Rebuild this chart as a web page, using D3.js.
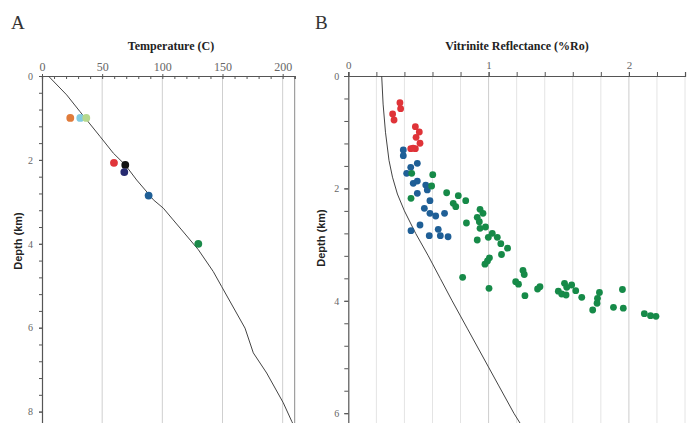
<!DOCTYPE html>
<html>
<head>
<meta charset="utf-8">
<script src="https://cdn.jsdelivr.net/npm/d3@7"></script>
<style>
  html, body { margin: 0; padding: 0; background: #fff; }
  svg { display: block; }
  text { font-family: "Liberation Serif", "DejaVu Serif", serif; }
</style>
</head>
<body>
<svg id="chart" width="688" height="423"></svg>
<script>
// ---- Panel A: temperature vs depth ----
const tempTicks = [0, 50, 100, 150, 200];
const depthTicksA = [0, 2, 4, 6, 8];
// measured well temperatures: [temperature C, depth km, colour]
const tempPoints = [
  [23.5, 1.00, "#e07b3a"],
  [31.8, 1.00, "#82cbe0"],
  [36.8, 1.00, "#b6d88e"],
  [59.8, 2.07, "#e0353a"],
  [69.2, 2.12, "#111111"],
  [68.4, 2.29, "#262a70"],
  [88.6, 2.85, "#1f5f96"],
  [129.9, 4.00, "#1b8a4a"]
];
// modelled geotherm: [temperature C, depth km]
const geotherm = [
  [5.3, 0], [20.5, 0.45], [31.6, 0.85], [48.2, 1.44], [59.3, 1.84], [69.2, 2.12],
  [78.7, 2.48], [89.7, 2.85], [92.5, 2.95], [100.8, 3.15], [109.0, 3.43],
  [116.1, 3.67], [129.9, 4.14], [142.3, 4.66], [149.3, 5.02], [168.7, 6.01],
  [175.6, 6.60], [186.7, 7.08], [200.5, 7.79], [207.5, 8.23], [210.5, 8.40]
];

// ---- Panel B: vitrinite reflectance vs depth ----
const roTicks = [0, 1, 2];
const depthTicksB = [0, 2, 4, 6];
// measured reflectance: [%Ro, depth km]
const roRed = [
  [0.368, 0.475], [0.373, 0.582], [0.316, 0.676], [0.326, 0.783], [0.478, 0.902],
  [0.506, 0.996], [0.483, 1.091], [0.511, 1.197], [0.445, 1.294], [0.478, 1.294], [0.462, 1.285]
];
const roBlue = [
  [0.392, 1.317], [0.392, 1.418], [0.492, 1.553], [0.445, 1.625], [0.416, 1.731],
  [0.463, 1.910], [0.492, 1.870], [0.552, 1.940], [0.563, 2.028], [0.492, 2.087],
  [0.582, 2.219], [0.542, 2.354], [0.582, 2.443], [0.623, 2.491], [0.686, 2.443],
  [0.511, 2.651], [0.447, 2.753], [0.641, 2.728], [0.577, 2.842], [0.656, 2.842], [0.711, 2.860]
];
const roGreen = [
  [0.452, 1.731], [0.602, 1.756], [0.594, 1.957], [0.447, 2.176], [0.701, 2.077],
  [0.784, 2.130], [0.748, 2.265], [0.766, 2.326], [0.837, 2.219], [0.842, 2.616],
  [0.939, 2.372], [0.960, 2.443], [0.919, 2.514], [0.934, 2.593], [0.939, 2.710],
  [0.978, 2.687], [0.919, 2.918], [0.998, 2.870], [1.026, 2.799], [1.062, 2.870],
  [1.087, 2.984], [1.135, 3.064], [1.092, 3.176], [1.006, 3.235], [0.992, 3.292],
  [0.974, 3.349], [0.815, 3.582], [1.003, 3.778], [1.245, 3.461], [1.254, 3.532],
  [1.193, 3.660], [1.213, 3.705], [1.259, 3.909], [1.349, 3.790], [1.366, 3.749],
  [1.497, 3.829], [1.521, 3.879], [1.552, 3.897], [1.541, 3.689], [1.557, 3.760],
  [1.592, 3.719], [1.621, 3.820], [1.664, 3.938], [1.790, 3.852], [1.776, 3.956],
  [1.773, 4.044], [1.742, 4.164], [1.890, 4.116], [1.954, 3.799], [1.960, 4.132],
  [2.110, 4.229], [2.154, 4.265], [2.193, 4.276]
];
// modelled maturity trend: [%Ro, depth km]
const roModel = [
  [0.238, 0], [0.248, 0.5], [0.265, 1.0], [0.290, 1.5], [0.315, 1.8], [0.350, 2.1],
  [0.400, 2.4], [0.480, 2.8], [0.570, 3.2], [0.655, 3.6], [0.740, 4.0], [0.850, 4.5],
  [0.960, 5.0], [1.070, 5.5], [1.180, 6.0], [1.230, 6.2], [1.250, 6.3]
];

const svg = d3.select("#chart");
const axisColor = "#555";
const labelColor = "#666";

function styleAxis(g) {
  g.select(".domain").attr("stroke", axisColor).attr("stroke-width", 1.2);
  g.selectAll(".tick line").attr("stroke", axisColor);
  g.selectAll(".tick text").attr("fill", labelColor)
    .style("font-family", "'Liberation Serif', serif");
}

// ================= Panel A =================
const xA = d3.scaleLinear().domain([0, 210]).range([42, 294.7]);
const yA = d3.scaleLinear().domain([0, 8.5]).range([76, 76 + 8.5 * 41.95]);
const gA = svg.append("g");

// vertical grid lines
gA.append("g").selectAll("line").data(tempTicks.filter(d => d > 0)).join("line")
  .attr("x1", d => xA(d)).attr("x2", d => xA(d))
  .attr("y1", yA(0)).attr("y2", 423)
  .attr("stroke", "#cfcfcf").attr("stroke-width", 1);
// right frame
gA.append("line").attr("x1", xA(210)).attr("x2", xA(210))
  .attr("y1", yA(0)).attr("y2", 423).attr("stroke", "#8a8a8a").attr("stroke-width", 1);

// minor ticks
gA.append("g").attr("transform", `translate(0,${yA(0)})`)
  .call(d3.axisTop(xA).tickValues(d3.range(0, 211, 10)).tickSize(-3).tickFormat(""))
  .call(styleAxis);
gA.append("g").attr("transform", `translate(${xA(0)},0)`)
  .call(d3.axisLeft(yA).tickValues(d3.range(0, 8.45, 0.4)).tickSize(3).tickFormat(""))
  .call(styleAxis);
// labelled ticks
gA.append("g").attr("transform", `translate(0,${yA(0)})`)
  .call(d3.axisTop(xA).tickValues(tempTicks).tickSize(2).tickPadding(3).tickFormat(d3.format("d")))
  .call(styleAxis)
  .call(g => g.select(".domain").remove())
  .call(g => g.selectAll(".tick text").attr("font-size", 12));
gA.append("g").attr("transform", `translate(${xA(0)},0)`)
  .call(d3.axisLeft(yA).tickValues(depthTicksA).tickSize(3).tickPadding(6).tickFormat(d3.format("d")))
  .call(styleAxis)
  .call(g => g.select(".domain").remove())
  .call(g => g.selectAll(".tick text").attr("font-size", 10));

// geotherm
gA.append("path").datum(geotherm)
  .attr("fill", "none").attr("stroke", "#444").attr("stroke-width", 1)
  .attr("d", d3.line().x(d => xA(d[0])).y(d => yA(d[1])));

// measured temperatures
gA.append("g").selectAll("circle").data(tempPoints).join("circle")
  .attr("cx", d => xA(d[0])).attr("cy", d => yA(d[1])).attr("r", 3.9)
  .attr("fill", d => d[2]);

// titles
svg.append("text").attr("x", 11).attr("y", 29).attr("font-size", 19).attr("fill", "#333").text("A");
svg.append("text").attr("x", 171).attr("y", 50).attr("text-anchor", "middle")
  .attr("font-size", 12).attr("font-weight", "bold").attr("fill", "#222").text("Temperature (C)");
svg.append("text").attr("transform", "translate(22,241) rotate(-90)").attr("text-anchor", "middle")
  .style("font-family", "'Liberation Sans', sans-serif")
  .attr("font-size", 11).attr("font-weight", "bold").attr("fill", "#222").text("Depth (km)");

// ================= Panel B =================
const xB = d3.scaleLinear().domain([0, 2.4]).range([348.3, 348.3 + 2.4 * 140.3]);
const yB = d3.scaleLinear().domain([0, 6.3]).range([76, 76 + 6.3 * 56.2]);
const gB = svg.append("g");

// vertical grid lines every 0.2
gB.append("g").selectAll("line").data(d3.range(1, 13).map(i => i * 0.2)).join("line")
  .attr("x1", d => xB(d)).attr("x2", d => xB(d))
  .attr("y1", yB(0)).attr("y2", 423)
  .attr("stroke", d => (Math.abs(d - 1) < 1e-6 || Math.abs(d - 2) < 1e-6) ? "#cdcdcd" : "#e4e4e4")
  .attr("stroke-width", 1);

gB.append("g").attr("transform", `translate(0,${yB(0)})`)
  .call(d3.axisTop(xB).tickValues(d3.range(0, 12.5).map(i => i * 0.2)).tickSize(4).tickFormat(""))
  .call(styleAxis);
gB.append("g").attr("transform", `translate(${xB(0)},0)`)
  .call(d3.axisLeft(yB).tickValues(d3.range(0, 16).map(i => i * 0.4)).tickSize(4).tickFormat(""))
  .call(styleAxis);
gB.append("g").attr("transform", `translate(0,${yB(0)})`)
  .call(d3.axisTop(xB).tickValues(roTicks).tickSize(4).tickPadding(3).tickFormat(d3.format("d")))
  .call(styleAxis)
  .call(g => g.select(".domain").remove())
  .call(g => g.selectAll(".tick text").attr("font-size", 11));
gB.append("g").attr("transform", `translate(${xB(0)},0)`)
  .call(d3.axisLeft(yB).tickValues(depthTicksB).tickSize(4).tickPadding(5).tickFormat(d3.format("d")))
  .call(styleAxis)
  .call(g => g.select(".domain").remove())
  .call(g => g.selectAll(".tick text").attr("font-size", 10));

// maturity trend
gB.append("path").datum(roModel)
  .attr("fill", "none").attr("stroke", "#444").attr("stroke-width", 1)
  .attr("d", d3.line().x(d => xB(d[0])).y(d => yB(d[1])));

// reflectance measurements
const series = [[roRed, "#df3338"], [roBlue, "#1f5f96"], [roGreen, "#168a48"]];
series.forEach(([pts, col]) => {
  gB.append("g").selectAll("circle").data(pts).join("circle")
    .attr("cx", d => xB(d[0])).attr("cy", d => yB(d[1])).attr("r", 3.4)
    .attr("fill", col);
});

svg.append("text").attr("x", 315).attr("y", 29).attr("font-size", 19).attr("fill", "#333").text("B");
svg.append("text").attr("x", 517).attr("y", 50).attr("text-anchor", "middle")
  .attr("font-size", 12).attr("font-weight", "bold").attr("fill", "#222").text("Vitrinite Reflectance (%Ro)");
svg.append("text").attr("transform", "translate(325,238) rotate(-90)").attr("text-anchor", "middle")
  .style("font-family", "'Liberation Sans', sans-serif")
  .attr("font-size", 11).attr("font-weight", "bold").attr("fill", "#222").text("Depth (km)");
</script>
</body>
</html>
